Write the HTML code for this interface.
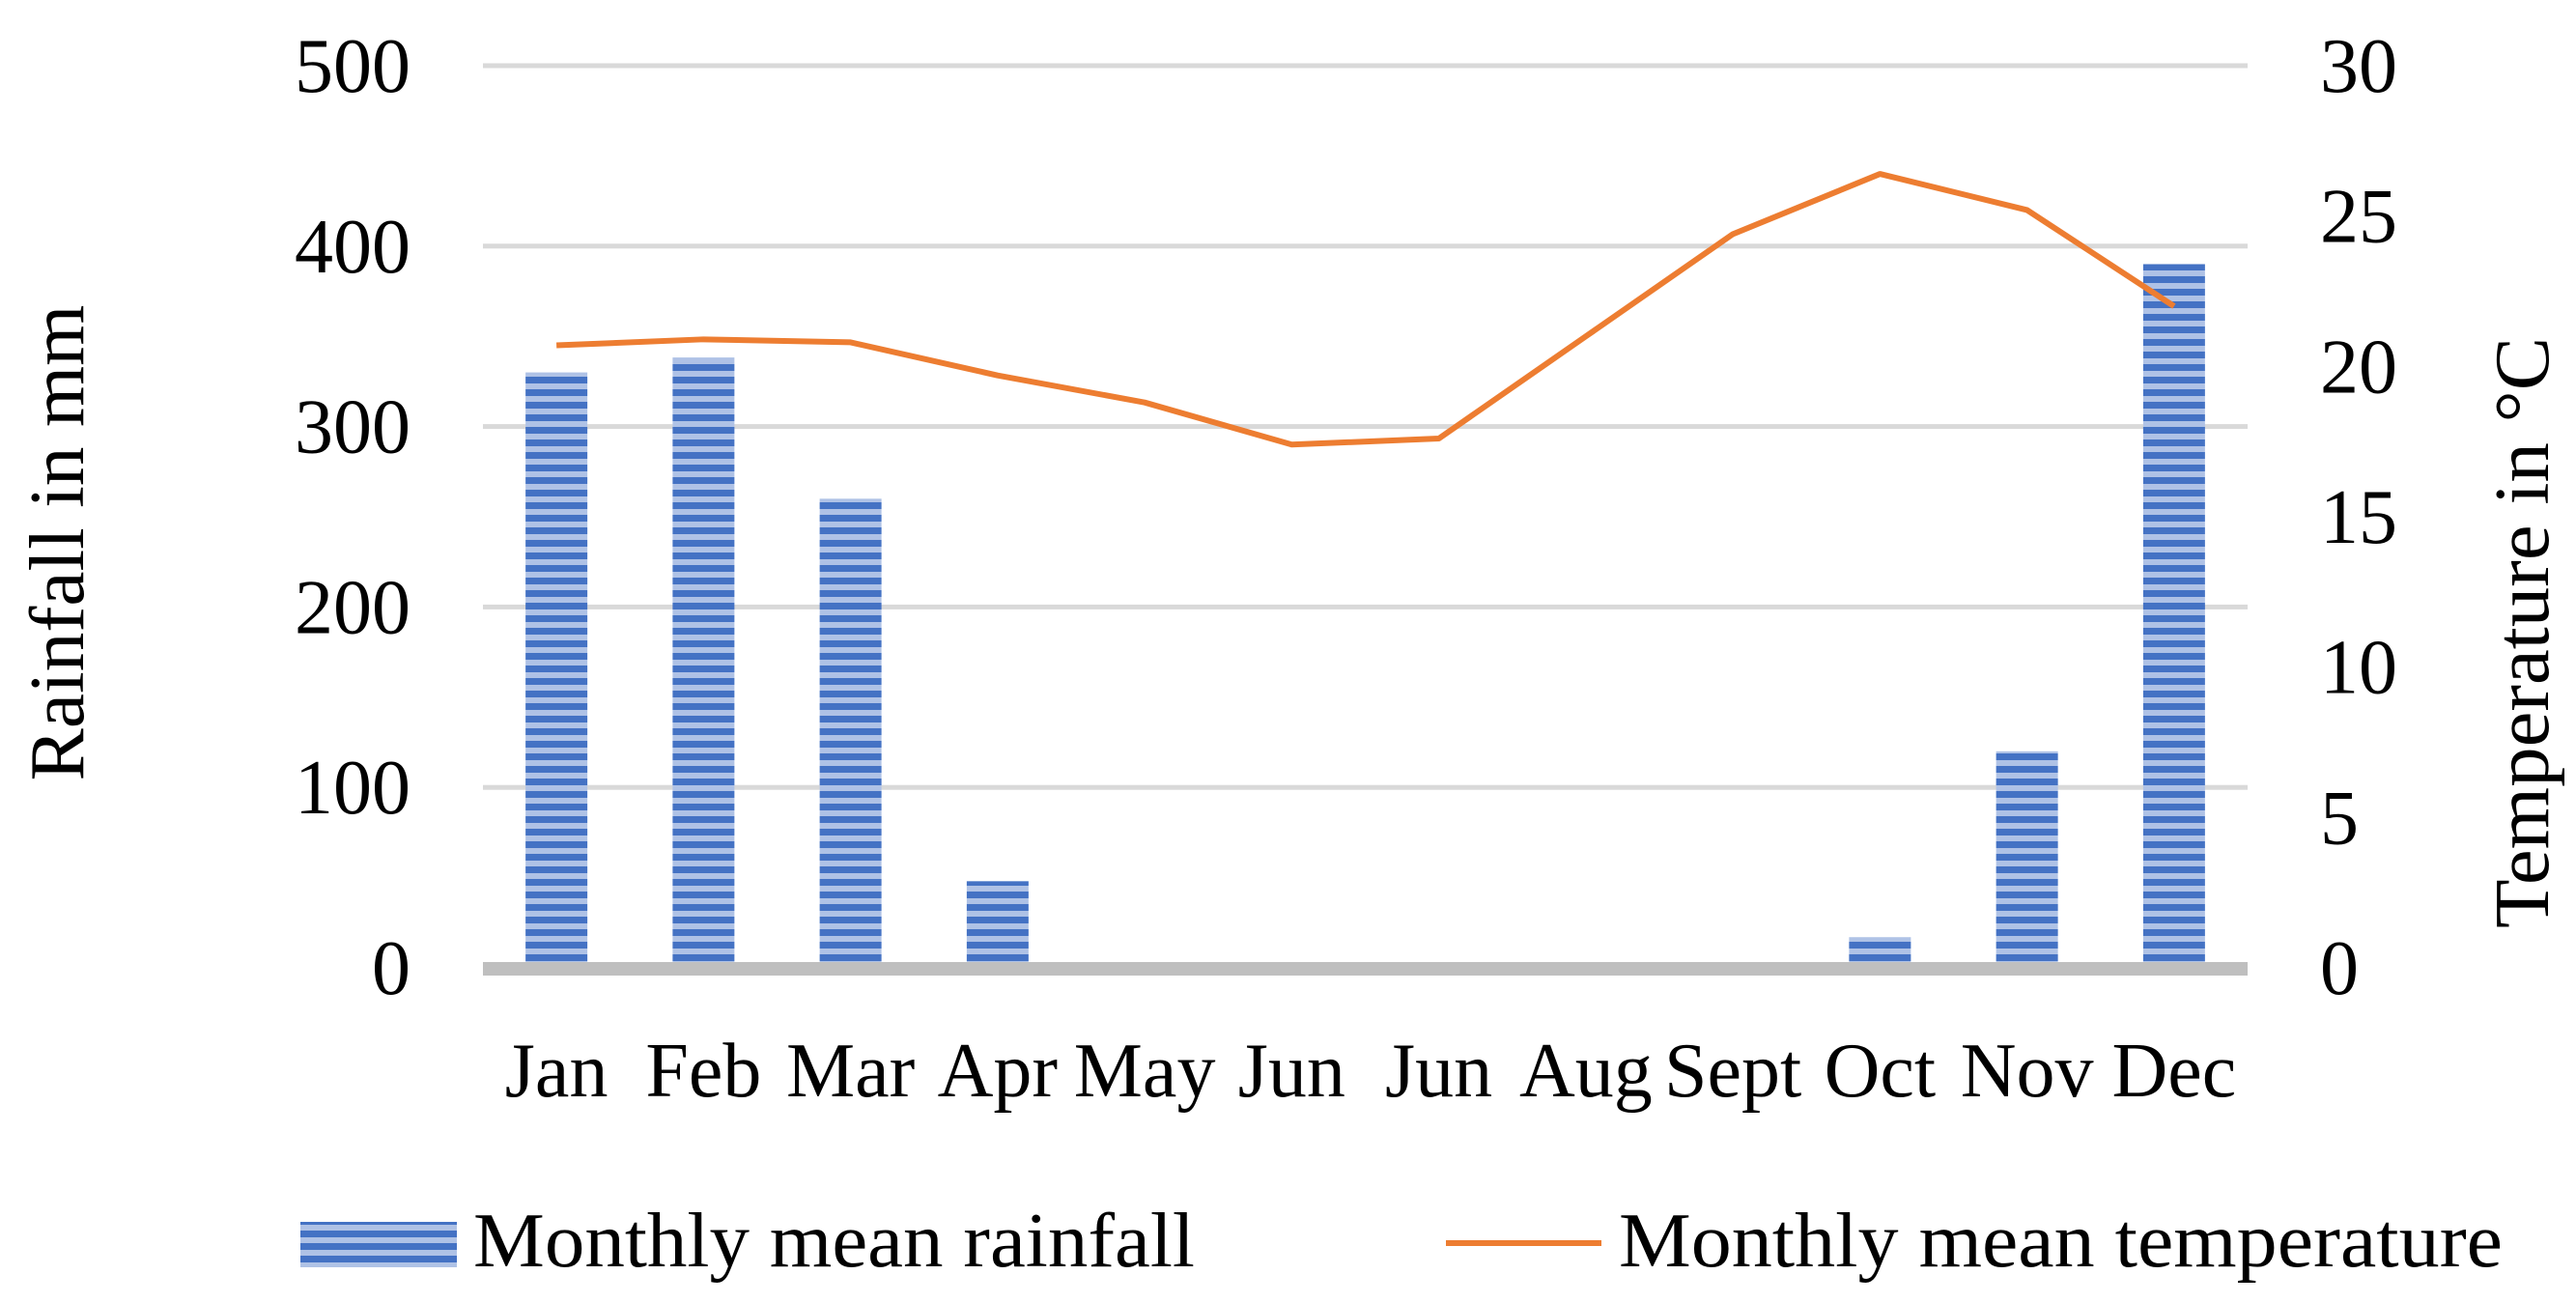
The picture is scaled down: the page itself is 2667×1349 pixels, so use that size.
<!DOCTYPE html>
<html><head><meta charset="utf-8"><style>
body{margin:0;background:#fff;}
svg text{font-family:"Liberation Serif",serif;font-size:80px;fill:#000;}
</style></head><body>
<svg width="2667" height="1344" viewBox="0 0 2667 1344">
<defs>
<pattern id="stripes" width="13" height="13" patternUnits="userSpaceOnUse">
<rect width="13" height="13" fill="#afc2e6"/>
<rect y="0" width="13" height="7" fill="#4472c4"/>
</pattern>
</defs>
<g id="grid"></g>
<g id="bars"></g>
<rect x="500" y="996" width="1827" height="14" fill="#bfbfbf"/>
<polyline id="line" fill="none" stroke="#ed7d31" stroke-width="6" stroke-linejoin="round"/>
<g id="ylab"></g>
<g id="y2lab"></g>
<g id="xlab"></g>
<text transform="translate(86,562) rotate(-90)" text-anchor="middle" textLength="493" lengthAdjust="spacingAndGlyphs">Rainfall in mm</text>
<text transform="translate(2638,655) rotate(-90)" text-anchor="middle" textLength="612" lengthAdjust="spacingAndGlyphs">Temperature in °C</text>
<g>
<rect x="311" y="1265" width="162" height="47" fill="url(#stripes)"/>
<text x="490" y="1311" textLength="747" lengthAdjust="spacingAndGlyphs">Monthly mean rainfall</text>
<line x1="1497" y1="1287" x2="1658" y2="1287" stroke="#ed7d31" stroke-width="6"/>
<text x="1676" y="1311" textLength="915" lengthAdjust="spacingAndGlyphs">Monthly mean temperature</text>
</g>
</svg>
<script>
const categories=["Jan","Feb","Mar","Apr","May","Jun","Jun","Aug","Sept","Oct","Nov","Dec"];
const rainfall=[330,338,260,48,3,0,0,0,0,17,120,390];
const temperature=[20.7,20.9,20.8,19.7,18.8,17.4,17.6,21.0,24.4,26.4,25.2,22.0];
const leftTicks=[0,100,200,300,400,500];
const rightTicks=[0,5,10,15,20,25,30];
const NS="http://www.w3.org/2000/svg";
const X0=500,X1=2327,Y0=1002,Ytop=68;
const bw=(X1-X0)/categories.length;
const yL=v=>Y0-(v/500)*(Y0-Ytop);
const yR=v=>Y0-(v/30)*(Y0-Ytop);
const xC=i=>X0+bw*(i+0.5);
function mk(tag,attrs,parent){const e=document.createElementNS(NS,tag);for(const k in attrs)e.setAttribute(k,attrs[k]);parent.appendChild(e);return e;}
const grid=document.getElementById('grid');
leftTicks.forEach(t=>{if(t===0)return;
const l=mk('rect',{x:X0,y:yL(t)-2.5,width:X1-X0,height:5,fill:'#d9d9d9'},grid);

});
const bars=document.getElementById('bars');
rainfall.forEach((v,i)=>{const h=Y0-yL(v);if(h<=0)return;
const r=mk('rect',{x:xC(i)-32,y:yL(v),width:64,height:h,fill:h<10?'#4472c4':'url(#stripes)'},bars);

});
document.getElementById('line').setAttribute('points',temperature.map((v,i)=>xC(i)+','+yR(v)).join(' '));
const yl=document.getElementById('ylab');
leftTicks.forEach(t=>{const e=mk('text',{x:425,y:yL(t)+27,'text-anchor':'end'},yl);e.textContent=t;

});
const y2=document.getElementById('y2lab');
rightTicks.forEach(t=>{const e=mk('text',{x:2402,y:yR(t)+27,'text-anchor':'start'},y2);e.textContent=t;

});
const xl=document.getElementById('xlab');
categories.forEach((c,i)=>{const e=mk('text',{x:xC(i),y:1135,'text-anchor':'middle'},xl);e.textContent=c;

});
</script>
</body></html>
